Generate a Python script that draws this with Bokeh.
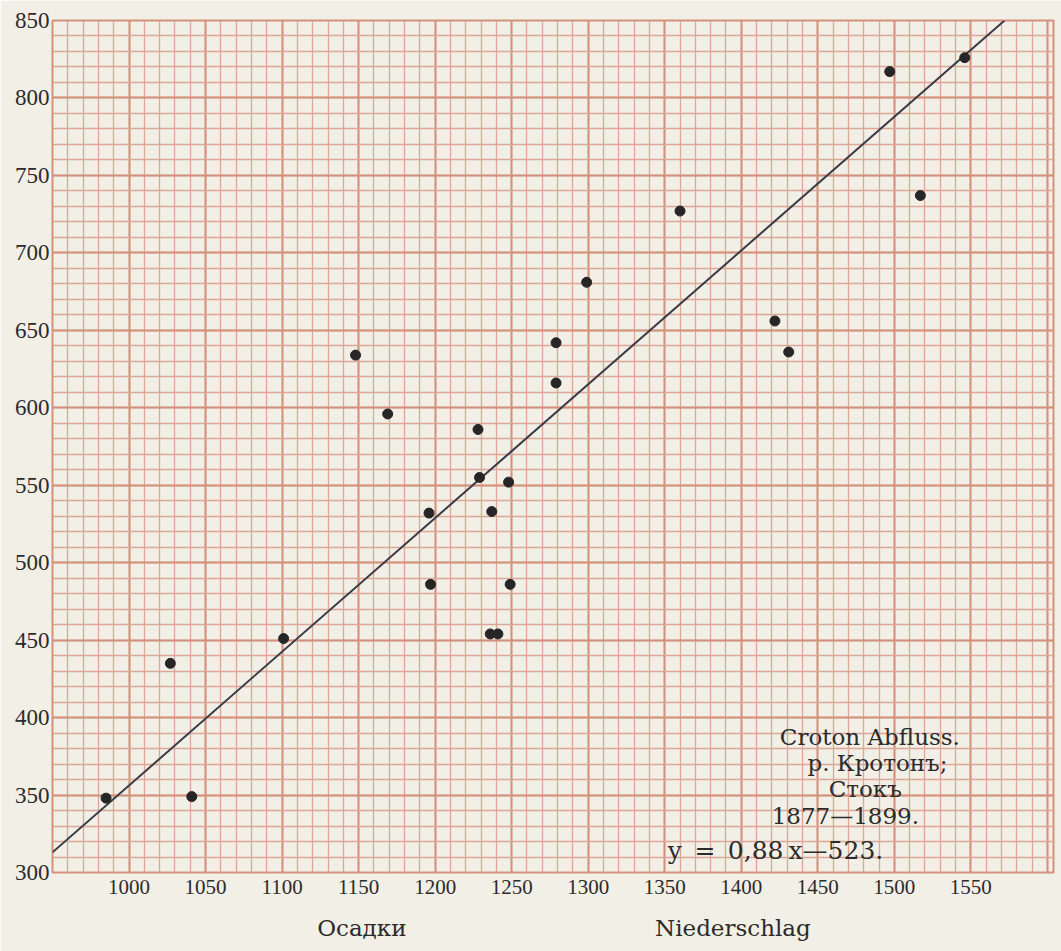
from bokeh.plotting import figure
from bokeh.models import FixedTicker, Label, Range1d
from bokeh.embed import file_html
from bokeh.resources import INLINE

# Niederschlag / Осадки (mm) and Abfluss / Сток (mm), Croton 1877-1899
precip = [985, 1027, 1041, 1101, 1148, 1169, 1196, 1197, 1228, 1229, 1237, 1248,
          1249, 1236, 1241, 1279, 1279, 1299, 1360, 1422, 1431, 1497, 1517, 1546]
runoff = [348, 435, 349, 451, 634, 596, 532, 486, 586, 555, 533, 552,
          486, 454, 454, 642, 616, 681, 727, 656, 636, 817, 737, 826]

# drawn regression line (y = 0,88x - 523) as it appears on the sheet
trend_x = [950, 1572]
trend_y = [313, 850]

x_ticks = [1000, 1050, 1100, 1150, 1200, 1250, 1300, 1350, 1400, 1450, 1500, 1550]
x_tick_labels = [str(v) for v in x_ticks]
y_ticks = [300, 350, 400, 450, 500, 550, 600, 650, 700, 750, 800, 850]
y_tick_labels = [str(v) for v in y_ticks]

note_lines = ["Croton Abfluss.", "р. Кротонъ;", "Стокъ", "1877—1899."]
formula = "y\u2002=\u20020,88\u2009x—523."
xlabel_ru = "Осадки"
xlabel_de = "Niederschlag"

PAPER = "#f2efe7"
GRID_MINOR = "#dca796"
GRID_MAJOR = "#d3917c"
FONT = "Liberation Serif"
NOTE_FONT = "DejaVu Serif"
INK = "#2b2b2b"

p = figure(width=1061, height=951, x_range=Range1d(950, 1604), y_range=Range1d(300, 850),
           output_backend="svg", toolbar_location=None,
           min_border_left=52, min_border_right=8, min_border_top=20, min_border_bottom=79)

p.background_fill_color = PAPER
p.border_fill_color = PAPER
p.outline_line_color = GRID_MAJOR
p.outline_line_width = 2

# graph paper
p.xgrid.ticker = FixedTicker(ticks=list(range(950, 1605, 50)), minor_ticks=list(range(950, 1605, 10)))
p.ygrid.ticker = FixedTicker(ticks=list(range(300, 851, 50)), minor_ticks=list(range(300, 851, 10)))
for g in (p.xgrid, p.ygrid):
    g.grid_line_color = GRID_MAJOR
    g.grid_line_width = 2
    g.minor_grid_line_color = GRID_MINOR
    g.minor_grid_line_width = 1.3

p.xaxis.ticker = FixedTicker(ticks=x_ticks)
p.xaxis.major_label_overrides = {v: s for v, s in zip(x_ticks, x_tick_labels)}
p.yaxis.ticker = FixedTicker(ticks=y_ticks)
p.yaxis.major_label_overrides = {v: s for v, s in zip(y_ticks, y_tick_labels)}
for ax in (p.xaxis, p.yaxis):
    ax.axis_line_color = None
    ax.major_tick_line_color = None
    ax.minor_tick_line_color = None
    ax.major_tick_out = 0
    ax.major_tick_in = 0
    ax.major_label_text_font = FONT
    ax.major_label_text_color = INK
p.xaxis.major_label_text_font_size = "21px"
p.yaxis.major_label_text_font_size = "23px"
p.xaxis.major_label_standoff = 7
p.yaxis.major_label_standoff = 3

# axis captions below the sheet (two words spaced apart on one line)
nb = "\u00a0"
p.xaxis.axis_label = nb * 3 + xlabel_ru + nb * 34 + xlabel_de
p.xaxis.axis_label_text_font = NOTE_FONT
p.xaxis.axis_label_text_font_style = "normal"
p.xaxis.axis_label_text_font_size = "23px"
p.xaxis.axis_label_text_color = INK
p.xaxis.axis_label_standoff = 18

p.line(trend_x, trend_y, line_color="#3a3c46", line_width=2)
p.scatter(precip, runoff, size=10, color="#262626")

# annotation block
note_x = [1484, 1489, 1481, 1468]
note_y = [387.5, 370.7, 353.9, 336.5]
for t, xx, yy in zip(note_lines, note_x, note_y):
    p.add_layout(Label(x=xx, y=yy, text=t, text_align="center", text_baseline="middle",
                       text_font=NOTE_FONT, text_font_size="23px", text_color=INK))
p.add_layout(Label(x=1352, y=313.9, text=formula, text_align="left", text_baseline="middle",
                   text_font=NOTE_FONT, text_font_size="25px", text_color=INK))

open("out.html", "w").write(file_html(p, INLINE))
